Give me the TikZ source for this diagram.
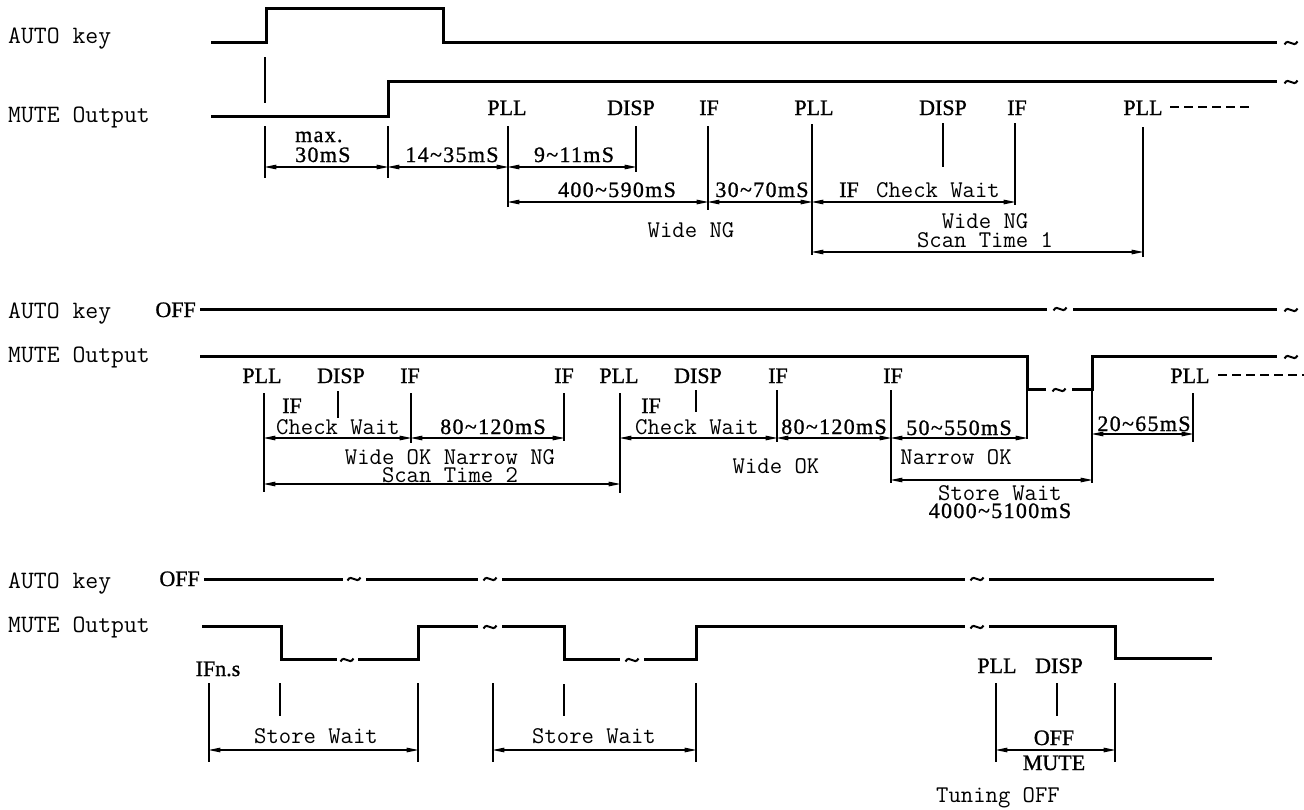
\documentclass[tikz,border=0pt]{standalone}
\usepackage{fontspec}
\usetikzlibrary{arrows.meta}
\newfontfamily\serfont{Liberation Serif}[FakeBold=1]
\newfontfamily\valfont{Liberation Serif}[LetterSpace=6,FakeBold=1]
\newcommand\tld{\textasciitilde}
\tikzset{
  x=1pt, y=-1pt,
  sig/.style={line width=3pt, line join=miter, line cap=butt},
  thinl/.style={line width=1.2pt},
  dimarrow/.style={line width=1.2pt, {Triangle[length=12pt,width=4.5pt]}-{Triangle[length=12pt,width=4.5pt]}, shorten <=-0.6pt, shorten >=-0.6pt},
  dashl/.style={line width=1.2pt, dash pattern=on 9pt off 5pt},
  side/.style={inner sep=0pt, anchor=base west, font=\fontsize{25}{27}\selectfont\ttfamily},
  mono/.style={inner sep=0pt, anchor=base, font=\fontsize{24}{26}\selectfont\ttfamily},
  rmlab/.style={inner sep=0pt, anchor=base, font=\fontsize{22}{24}\selectfont\serfont},
  vlab/.style={inner sep=0pt, anchor=base, font=\fontsize{22}{24}\selectfont\valfont},
  brk/.style={line width=2pt},
}
% break mark (tilde) drawn on a signal line
\newcommand\brkmark[2]{\draw[brk] (#1-6.5,#2+1.5) .. controls (#1-2.5,#2-6) and (#1+2.5,#2+6) .. (#1+6.5,#2-1.5);}
\begin{document}
\begin{tikzpicture}
\useasboundingbox (0,0) rectangle (1304,809);
\fill[white] (0,0) rectangle (1304,809);

% ================= Section 1 =================
\node[side] (s1auto) at (8,43) {AUTO key};
\node[side] (s1mute) at (8,122) {MUTE Output};

\draw[sig] (211,42) -- (266,42) -- (266,8) -- (443,8) -- (443,42) -- (1277,42);
\brkmark{1291}{43}
\draw[sig] (211,116) -- (388,116) -- (388,81) -- (1277,81);
\brkmark{1291}{82}

% event labels
\node[rmlab] (p1) at (507,115) {PLL};
\node[rmlab] (d1) at (631,115) {DISP};
\node[rmlab] (i1) at (709,115) {IF};
\node[rmlab] (p2) at (814,115) {PLL};
\node[rmlab] (d2) at (943,115) {DISP};
\node[rmlab] (i2) at (1017,115) {IF};
\node[rmlab] (p3) at (1143,115) {PLL};
\draw[dashl] (1170,107) -- (1252,107);

% verticals
\draw[thinl] (265,57) -- (265,103);
\draw[thinl] (265,126) -- (265,178);
\draw[thinl] (388,126) -- (388,178);
\draw[thinl] (508,126) -- (508,207);
\draw[thinl] (636,126) -- (636,172);
\draw[thinl] (708,126) -- (708,210);
\draw[thinl] (812,124) -- (812,255);
\draw[thinl] (943,123) -- (943,167);
\draw[thinl] (1015,123) -- (1015,205);
\draw[thinl] (1143,127) -- (1143,257);

% dimensions
\draw[dimarrow] (265,167) -- (388,167);
\draw[dimarrow] (388,167) -- (508,167);
\draw[dimarrow] (508,167) -- (636,167);
\draw[dimarrow] (508,202) -- (708,202);
\draw[dimarrow] (708,202) -- (812,202);
\draw[dimarrow] (812,202) -- (1015,202);
\draw[dimarrow] (812,252) -- (1143,252);

\node[vlab, anchor=base west, align=left, font=\fontsize{22}{20}\selectfont\valfont] (t1) at (295,162) {max.\\30mS};
\node[vlab] (t2) at (452,162) {14\tld35mS};
\node[vlab] (t3) at (574,162) {9\tld11mS};
\node[vlab] (t4) at (617,197) {400\tld590mS};
\node[vlab] (t5) at (762,197) {30\tld70mS};
\node[rmlab] (t6a) at (849,197) {IF};
\node[mono] (t6b) at (938,197) {Check Wait};
\node[mono] (t7) at (691,237) {Wide NG};
\node[mono, align=center, font=\fontsize{24}{19}\selectfont\ttfamily] (t8) at (985,247) {Wide NG\\Scan Time 1};

% ================= Section 2 =================
\node[side] (s2auto) at (8,318) {AUTO key};
\node[side] (s2mute) at (8,362) {MUTE Output};
\node[rmlab, anchor=base east] (s2off) at (196,317) {OFF};

\draw[sig] (200,309) -- (1047,309);
\brkmark{1060}{309}
\draw[sig] (1073,309) -- (1277,309);
\brkmark{1291}{310}
\draw[sig] (200,356) -- (1027,356) -- (1027,389) -- (1046,389);
\brkmark{1059}{390}
\draw[sig] (1072,389) -- (1092,389) -- (1092,356) -- (1277,356);
\brkmark{1291}{357}

\node[rmlab] (q1) at (262,383) {PLL};
\node[rmlab] (q2) at (341,383) {DISP};
\node[rmlab] (q3) at (410,383) {IF};
\node[rmlab] (q4) at (564,383) {IF};
\node[rmlab] (q5) at (619,383) {PLL};
\node[rmlab] (q6) at (698,383) {DISP};
\node[rmlab] (q7) at (778,383) {IF};
\node[rmlab] (q8) at (893,383) {IF};
\node[rmlab] (q9) at (1190,383) {PLL};
\draw[dashl] (1218,375) -- (1304,375);

\draw[thinl] (264,393) -- (264,492);
\draw[thinl] (338,391) -- (338,418);
\draw[thinl] (411,393) -- (411,443);
\draw[thinl] (564,393) -- (564,441);
\draw[thinl] (620,393) -- (620,493);
\draw[thinl] (696,390) -- (696,412);
\draw[thinl] (777,390) -- (777,442);
\draw[thinl] (891,390) -- (891,483);
\draw[thinl] (1027,390) -- (1027,439);
\draw[thinl] (1092,390) -- (1092,483);
\draw[thinl] (1193,393) -- (1193,442);

\draw[dimarrow] (264,438) -- (411,438);
\draw[dimarrow] (411,438) -- (564,438);
\draw[dimarrow] (264,484) -- (620,484);
\draw[dimarrow] (620,438) -- (777,438);
\draw[dimarrow] (777,438) -- (891,438);
\draw[dimarrow] (891,438) -- (1027,438);
\draw[dimarrow] (891,480) -- (1092,480);
\draw[dimarrow] (1092,434) -- (1193,434);

\node[rmlab] (u1) at (292,413) {IF};
\node[mono] (u2) at (338,434) {Check Wait};
\node[vlab] (u3) at (493,434) {80\tld120mS};
\node[mono, align=center, font=\fontsize{24}{18}\selectfont\ttfamily] (u4) at (450,482) {Wide OK Narrow NG\\Scan Time 2};
\node[rmlab] (u6) at (651,413) {IF};
\node[mono] (u7) at (697,434) {Check Wait};
\node[vlab] (u8) at (834,434) {80\tld120mS};
\node[mono] (u9) at (776,473) {Wide OK};
\node[vlab] (u10) at (959,435) {50\tld550mS};
\node[mono] (u11) at (956,464) {Narrow OK};
\node[mono, align=center, font=\fontsize{24}{18}\selectfont\ttfamily] (u12) at (1000,518) {Store Wait\\{\fontsize{22}{18}\selectfont\valfont 4000\tld5100mS}};
\node[vlab] (u14) at (1144,431) {20\tld65mS};

% ================= Section 3 =================
\node[side] (s3auto) at (8,588) {AUTO key};
\node[side] (s3mute) at (8,632) {MUTE Output};
\node[rmlab, anchor=base east] (s3off) at (200,586) {OFF};

\draw[sig] (204,579) -- (343,579);
\brkmark{354}{579}
\draw[sig] (366,579) -- (478,579);
\brkmark{490}{579}
\draw[sig] (502,579) -- (965,579);
\brkmark{977}{579}
\draw[sig] (989,579) -- (1214,579);

\draw[sig] (202,626) -- (281,626) -- (281,659) -- (337,659);
\brkmark{347}{660}
\draw[sig] (358,659) -- (418,659) -- (418,626) -- (478,626);
\brkmark{490}{627}
\draw[sig] (502,626) -- (564,626) -- (564,659) -- (620,659);
\brkmark{632}{660}
\draw[sig] (644,659) -- (696,659) -- (696,626) -- (965,626);
\brkmark{977}{627}
\draw[sig] (989,626) -- (1115,626) -- (1115,658) -- (1212,658);

\node[rmlab] (w1) at (218,676) {IFn.s};
\node[rmlab] (w2) at (997,673) {PLL};
\node[rmlab] (w3) at (1059,673) {DISP};

\draw[thinl] (209,683) -- (209,762);
\draw[thinl] (280,683) -- (280,716);
\draw[thinl] (418,683) -- (418,762);
\draw[thinl] (493,683) -- (493,762);
\draw[thinl] (564,684) -- (564,716);
\draw[thinl] (696,683) -- (696,762);
\draw[thinl] (996,683) -- (996,762);
\draw[thinl] (1057,683) -- (1057,716);
\draw[thinl] (1115,683) -- (1115,762);

\draw[dimarrow] (209,750) -- (418,750);
\draw[dimarrow] (493,750) -- (696,750);
\draw[dimarrow] (996,750) -- (1115,750);

\node[mono] (w4) at (316,743) {Store Wait};
\node[mono] (w5) at (594,743) {Store Wait};
\node[rmlab] (w6) at (1054,745) {OFF};
\node[rmlab] (w7) at (1054,770) {MUTE};
\node[mono] (w8) at (998,802) {Tuning OFF};
\end{tikzpicture}
\end{document}
